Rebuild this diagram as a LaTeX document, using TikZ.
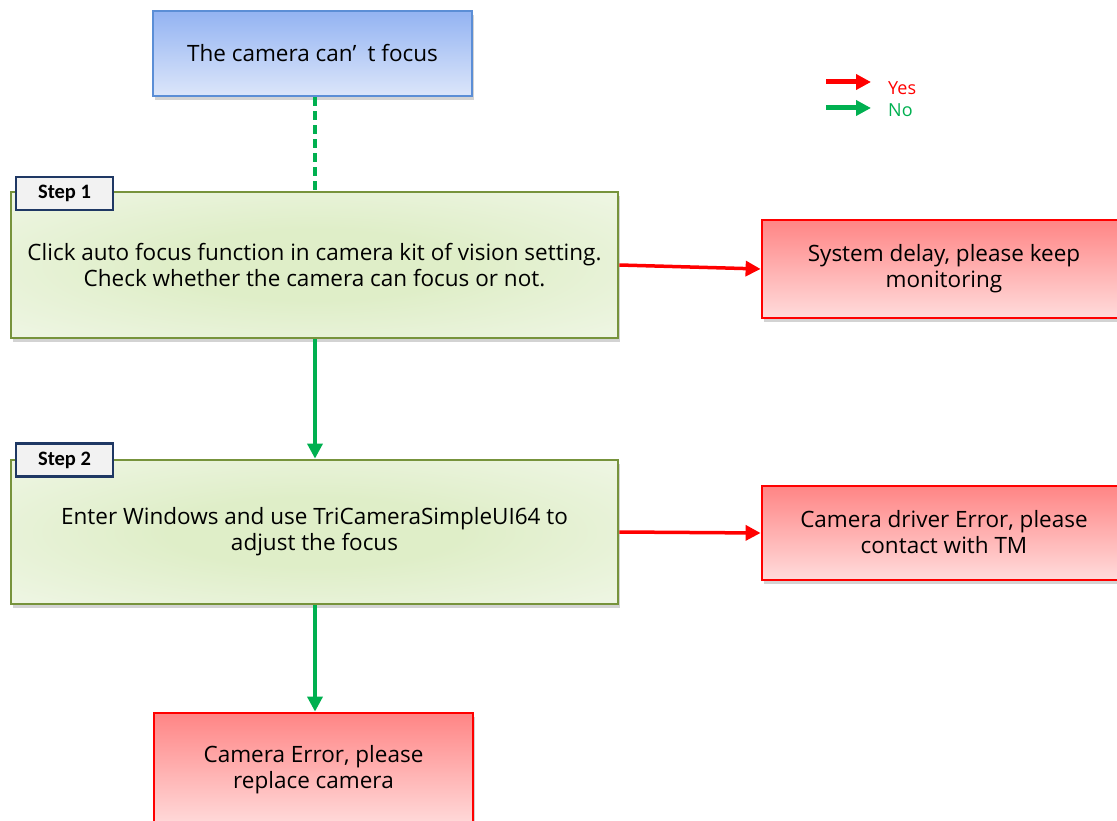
\documentclass[tikz,border=0pt]{standalone}
\usepackage{fontspec}
\setmainfont{Open Sans}
\newfontfamily\tagfont{Carlito}
\usepackage{tikz}
\usetikzlibrary{shadows,arrows.meta}
\definecolor{BoxBlue}{HTML}{5B8ED6}
\definecolor{BlueTop}{HTML}{93B3F2}
\definecolor{BlueBot}{HTML}{DCE6FA}
\definecolor{BoxOlive}{HTML}{77933C}
\definecolor{OliveIn}{HTML}{DFEEC8}
\definecolor{OliveOut}{HTML}{F3F8EC}
\definecolor{RedTop}{HTML}{FF8585}
\definecolor{RedBot}{HTML}{FFDCDC}
\definecolor{TagNavy}{HTML}{1F3864}
\definecolor{TagGray}{HTML}{F2F2F2}
\definecolor{YesRed}{HTML}{FF0000}
\definecolor{NoGreen}{HTML}{00B050}
\pgfdeclareradialshading{stepglow}{\pgfpoint{0bp}{0bp}}{color(0bp)=(OliveIn); color(12bp)=(OliveIn); color(42bp)=(OliveOut); color(80bp)=(OliveOut)}

\begin{document}
\begin{tikzpicture}[x=1pt,y=-1pt,
  every node/.style={font=\fontsize{22.5}{26}\selectfont, align=center, inner sep=0pt},
  shade/.style={drop shadow={shadow xshift=2pt,shadow yshift=-4pt,opacity=0.35}},
  startbox/.style={draw=BoxBlue, line width=2.5pt, top color=BlueTop, bottom color=BlueBot, shade},
  stepbox/.style={draw=BoxOlive, line width=2.8pt, shading=stepglow, shade},
  failbox/.style={draw=YesRed, line width=2.8pt, top color=RedTop, bottom color=RedBot, shade},
  tagbox/.style={draw=TagNavy, line width=2.5pt, fill=TagGray, minimum width=97, minimum height=33,
    font=\tagfont\bfseries\fontsize{20.5}{22}\selectfont},
  yes/.style={draw=YesRed, line width=3.5pt, -{Triangle[length=15pt,width=15pt]}},
  no/.style={draw=NoGreen, line width=3.5pt, -{Triangle[length=15pt,width=15pt]}},
  legend/.style={line width=5pt, -{Triangle[length=15pt,width=15pt]}}]
  \useasboundingbox (0,0) rectangle (1117,821);
  \clip (0,0) rectangle (1117,821);
  % boxes
  \node[startbox, minimum width=319, minimum height=85] (start) at (312.5,53.5)
    {The camera can’\enspace t focus};
  \node[stepbox, minimum width=607, minimum height=146] (s1) at (314.5,265)
    {Click auto focus function in camera kit of vision setting.\\Check whether the camera can focus or not.};
  \node[stepbox, minimum width=607, minimum height=144] (s2) at (314.5,532)
    {Enter Windows and use TriCameraSimpleUI64 to\\adjust the focus};
  \node[failbox, minimum width=420, minimum height=98] (r1) at (972,269) {};
  \node (t1) at (944,269) {System delay, please keep\\monitoring};
  \node[failbox, minimum width=420, minimum height=94] (r2) at (972,533) {};
  \node (t2) at (944,532) {Camera driver Error, please\\contact with TM};
  \node[failbox, minimum width=319, minimum height=114] (r3) at (313.5,770)
    {Camera Error, please\\replace camera};
  % step tags
  \node[tagbox] (tag1) at (64.5,193.5) {Step 1};
  \node[tagbox] (tag2) at (64.5,460) {Step 2};
  % connectors
  \draw[draw=NoGreen, line width=3.5pt, dashed, dash pattern=on 9pt off 5pt] (start.south -| 315,0) -- (s1.north -| 315,0);
  \draw[no] (s1.south -| 315,0) -- (s2.north -| 315,0);
  \draw[no] (s2.south -| 315,0) -- (r3.north -| 315,0);
  \draw[yes] (s1.east) -- (r1.west);
  \draw[yes] (s2.east) -- (r2.west);
  % legend
  \coordinate (ya) at (826,82);
  \coordinate (yb) at (871,82);
  \coordinate (na) at (826,108);
  \coordinate (nb) at (871,108);
  \draw[legend, YesRed] (ya) -- (yb);
  \draw[legend, NoGreen] (na) -- (nb);
  \node[anchor=west, text=YesRed, font=\fontsize{18}{20}\selectfont] (yes) at (888,88) {Yes};
  \node[anchor=west, text=NoGreen, font=\fontsize{18}{20}\selectfont] (no) at (888,110) {No};
\end{tikzpicture}
\end{document}
